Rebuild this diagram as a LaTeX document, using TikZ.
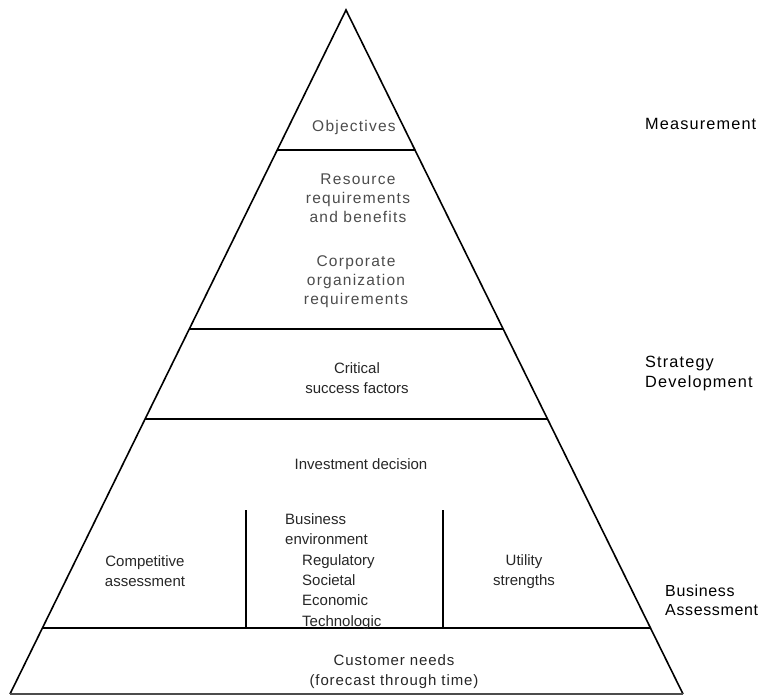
\documentclass[tikz,border=0pt]{standalone}
\usepackage{fontspec}
\setmainfont{Liberation Sans}
\newfontfamily\labfont[LetterSpace=7]{Liberation Sans}
\newfontfamily\labfontb[LetterSpace=4]{Liberation Sans}
\newfontfamily\widefont[LetterSpace=8]{Liberation Sans}
\newfontfamily\semiwide[LetterSpace=6]{Liberation Sans}
\usetikzlibrary{calc}
\begin{document}
\begin{tikzpicture}[x=1pt,y=-1pt,
  edge/.style={line width=1.6pt, line join=miter},
  baseline/.style={line width=1.2pt, black!70},
  sep/.style={line width=1.1pt},
  txt/.style={font=\fontsize{15}{20}\selectfont, align=center, inner sep=0pt, text=black!85},
  wtxt/.style={txt, font=\widefont\fontsize{15.5}{19}\selectfont, text=black!70},
  lab/.style={font=\labfont\fontsize{16.3}{20}\selectfont, align=left, anchor=west, inner sep=0pt}]
\useasboundingbox (0,0) rectangle (765,696);
% pyramid outline
\coordinate (A) at (346,10);
\coordinate (L) at (10,694);
\coordinate (R) at (683,694);
\draw[edge] (L) -- (A) -- (R);
\draw[baseline] (L) -- (R);
% horizontal separators
\foreach \n/\t in {a/0.2047,b/0.4664,c/0.598,d/0.9035} {
  \coordinate (\n l) at ($(A)!\t!(L)$);
  \coordinate (\n r) at ($(A)!\t!(R)$);
  \draw[sep] (\n l) -- (\n r);
}
% vertical separators
\coordinate (v1t) at (246,510); \coordinate (v1b) at (246,628);
\coordinate (v2t) at (443,510); \coordinate (v2b) at (443,628);
\draw[sep] (v1t) -- (v1b);
\draw[sep] (v2t) -- (v2b);
% texts
\node[wtxt] (obj) at (354,127) {Objectives};
\node[wtxt] (res) at (358,198) {Resource\\requirements\\and benefits};
\node[wtxt] (corp) at (356,282) {Corporate\\organization\\requirements};
\node[txt] (csf) at (357,378.5) {Critical\\success factors};
\node[txt] (inv) at (361,464) {Investment decision};
\node[txt] (comp) at (145,571.5) {Competitive\\assessment};
\node[txt] (util) at (524,571.5) {Utility\\strengths};
\node[txt, align=left, anchor=west, font=\fontsize{15}{20.4}\selectfont] (env) at (285,571.5)
  {Business\\environment\\\hspace*{17pt}Regulatory\\\hspace*{17pt}Societal\\\hspace*{17pt}Economic\\\hspace*{17pt}Technologic};
\node[txt, font=\semiwide\fontsize{15}{20}\selectfont] (cust) at (394,671.5) {Customer needs\\(forecast through time)};
% level labels
\node[lab] (meas) at (645,124) {Measurement};
\node[lab] (strat) at (645,373.5) {Strategy\\Development};
\node[lab, font=\labfontb\fontsize{16}{19}\selectfont] (bass) at (665,600) {Business\\Assessment};
\end{tikzpicture}
\end{document}
